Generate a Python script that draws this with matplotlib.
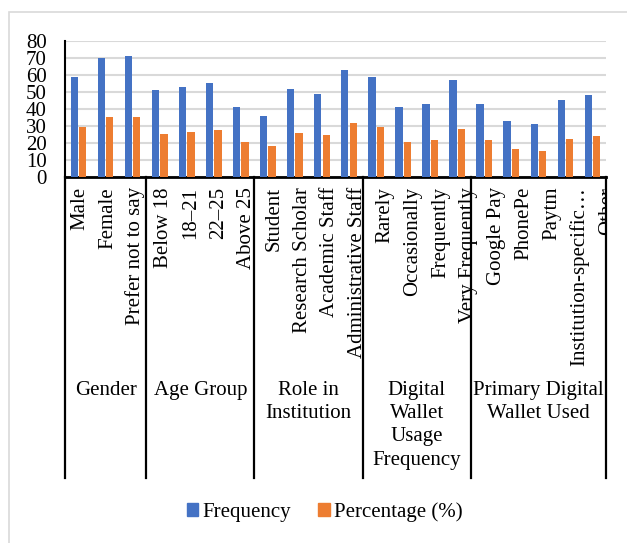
import matplotlib
matplotlib.use("Agg")
import matplotlib.pyplot as plt
from matplotlib.patches import Patch, Rectangle
from matplotlib.transforms import blended_transform_factory, Bbox, TransformedBbox
import numpy as np

# ---- data ----
groups = ["Gender", "Age Group", "Role in\nInstitution",
          "Digital\nWallet\nUsage\nFrequency", "Primary Digital\nWallet Used"]
group_sizes = [3, 4, 4, 4, 5]
categories = ["Male", "Female", "Prefer not to say",
              "Below 18", "18\u201321", "22\u201325", "Above 25",
              "Student", "Research Scholar", "Academic Staff", "Administrative Staff",
              "Rarely", "Occasionally", "Frequently", "Very Frequently",
              "Google Pay", "PhonePe", "Paytm", "Institution-specific\u2026", "Other"]
frequency = [59, 70, 71,
             51, 53, 55, 41,
             36, 52, 49, 63,
             59, 41, 43, 57,
             43, 33, 31, 45, 48]
percentage = [29.5, 35, 35.5,
              25.5, 26.5, 27.5, 20.5,
              18, 26, 24.5, 31.5,
              29.5, 20.5, 21.5, 28.5,
              21.5, 16.5, 15.5, 22.5, 24]
yticks = [0, 10, 20, 30, 40, 50, 60, 70, 80]

# ---- style ----
BLUE = "#4472C4"
ORANGE = "#ED7D31"
FONT = "Liberation Serif"
FS = 15
W, H = 627, 543

plt.rcParams["font.family"] = [FONT, "DejaVu Serif"]

fig = plt.figure(figsize=(W / 100, H / 100), dpi=100)
ax = fig.add_axes([65 / W, 1 - 177 / H, (606 - 65) / W, (177 - 41) / H])

x = np.arange(len(categories))
bw = 0.27
ax.bar(x - bw / 2 - 0.02, frequency, width=bw, color=BLUE, zorder=3)
ax.bar(x + bw / 2 + 0.02, percentage, width=bw, color=ORANGE, zorder=3)

ax.set_xlim(-0.5, len(categories) - 0.5)
ax.set_ylim(0, 80)
ax.set_yticks(yticks)
ax.set_yticklabels([str(v) for v in yticks], fontsize=FS)
ax.tick_params(axis="y", length=0, pad=13)
ax.set_xticks([])
ax.grid(axis="y", color="#d9d9d9", linewidth=1.5, zorder=0)
for s in ["top", "right"]:
    ax.spines[s].set_visible(False)
ax.spines["left"].set_linewidth(1.5)
ax.spines["bottom"].set_linewidth(2)
ax.spines["left"].set_color("black")
ax.spines["bottom"].set_color("black")

trans = blended_transform_factory(ax.transData, fig.transFigure)
clip_tr = blended_transform_factory(ax.transAxes, fig.transFigure)
clip_box = TransformedBbox(Bbox([[0, 0], [1, 1]]), clip_tr)

# category labels (rotated)
stretch = 1.026
offset = (80 - 65) / 27.05 - 0.5
for i, c in enumerate(categories):
    t = fig.text(offset + i * stretch, 1 - 187 / H, c, transform=trans,
                 rotation=90, ha="center", va="top", fontsize=FS)
    t.set_clip_on(True)
    t.set_clip_box(clip_box)

# group separators and labels
bounds = np.concatenate([[0], np.cumsum(group_sizes)]) - 0.5
for b in bounds:
    fig.add_artist(plt.Line2D([b, b], [1 - 177 / H, 1 - 478 / H], transform=trans,
                              color="black", linewidth=1.6))
for g, a, b in zip(groups, bounds[:-1], bounds[1:]):
    fig.text((a + b) / 2, 1 - 381 / H, g, transform=trans, ha="center", va="top",
             fontsize=FS, linespacing=1.3, multialignment="center")

# chart border
fig.add_artist(Rectangle((9 / W, -0.02), 1.05, 1 - 12 / H + 0.02,
                         transform=fig.transFigure, fill=False,
                         edgecolor="#d9d9d9", linewidth=1.2))

handles = [Patch(color=BLUE, label="Frequency"), Patch(color=ORANGE, label="Percentage (%)")]
fig.legend(handles=handles, loc="center", bbox_to_anchor=(0.518, 1 - 512 / H), ncol=2,
           frameon=False, fontsize=FS, handlelength=0.55, handleheight=0.55,
           handletextpad=0.2, columnspacing=1.3)

fig.savefig("out.png", dpi=100)
